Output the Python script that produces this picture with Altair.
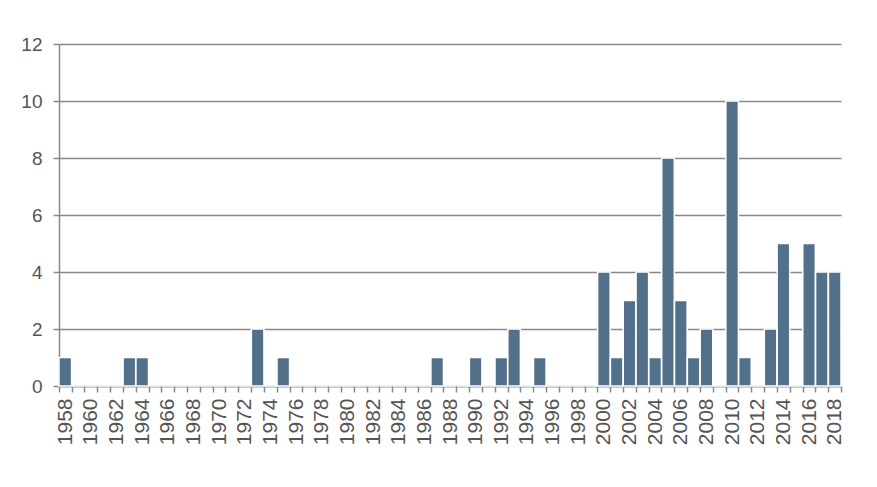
import altair as alt
import pandas as pd

years = list(range(1958, 2019))
counts_by_year = {
    1958: 1, 1963: 1, 1964: 1, 1973: 2, 1975: 1, 1987: 1, 1990: 1,
    1992: 1, 1993: 2, 1995: 1, 2000: 4, 2001: 1, 2002: 3, 2003: 4,
    2004: 1, 2005: 8, 2006: 3, 2007: 1, 2008: 2, 2010: 10, 2011: 1,
    2013: 2, 2014: 5, 2016: 5, 2017: 4, 2018: 4,
}
values = [counts_by_year.get(y, 0) for y in years]
y_ticks = [0, 2, 4, 6, 8, 10, 12]

df = pd.DataFrame({"year": years, "count": values})

GRAY = "#898989"
LABEL = "#555555"
FONT = "Liberation Sans"

chart = (
    alt.Chart(df)
    .mark_bar(color="#52708A", stroke="white", strokeWidth=1.5)
    .encode(
        x=alt.X(
            "year:O",
            scale=alt.Scale(domain=years, paddingInner=0.02, paddingOuter=0),
            axis=alt.Axis(
                title=None,
                labelAngle=-90,
                labelExpr="datum.value % 2 == 0 ? datum.label : ''",
                tickBand="extent",
                labelAlign="right",
                labelBaseline="middle",
                labelPadding=6,
                labelFontSize=21,
                labelColor=LABEL,
                labelFont=FONT,
                tickSize=6,
                tickColor=GRAY,
                tickWidth=1.5,
                domainColor=GRAY,
                domainWidth=1.5,
                labelOverlap=False,
                grid=False,
            ),
        ),
        y=alt.Y(
            "count:Q",
            scale=alt.Scale(domain=[0, 12], nice=False),
            axis=alt.Axis(
                title=None,
                values=y_ticks,
                labelFontSize=19,
                labelColor=LABEL,
                labelFont=FONT,
                labelPadding=11,
                tickSize=6,
                tickColor=GRAY,
                tickWidth=1.5,
                domainColor=GRAY,
                domainWidth=1.5,
                grid=True,
                gridColor=GRAY,
                gridWidth=1.5,
            ),
        ),
    )
    .properties(
        width=782,
        height=342,
        autosize=alt.AutoSizeParams(type="none"),
        padding={"left": 51, "top": 36, "right": 20, "bottom": 80},
    )
    .configure_view(stroke=None)
)

chart.save("out.html", embed_options={"renderer": "svg", "actions": False})
